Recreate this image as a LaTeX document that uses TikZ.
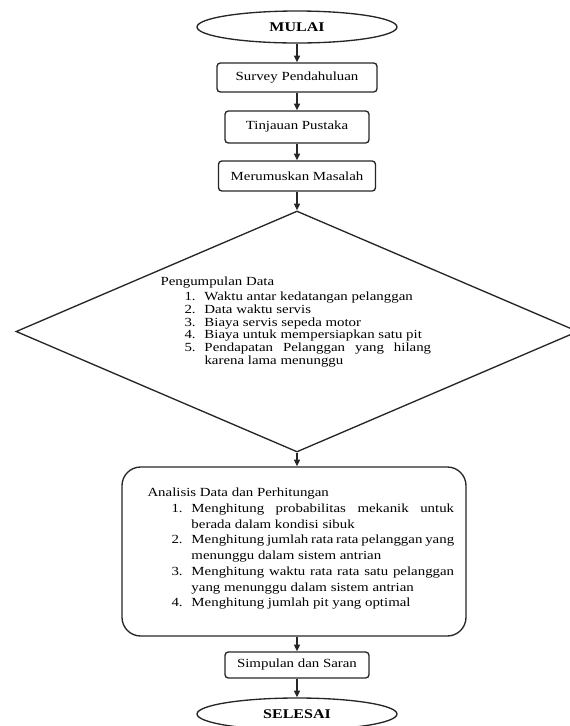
\documentclass[tikz,border=0pt]{standalone}
\usepackage{fontspec}
\setmainfont{Liberation Serif}[FakeStretch=1.2]
\usetikzlibrary{shapes.geometric,arrows.meta}

\tikzset{every picture/.style={line width=0.75pt}}
\tikzset{
  terminal/.style={ellipse, draw=black!85, line width=1pt, inner sep=0pt, font=\fontsize{10}{12}\selectfont\bfseries},
  proses/.style={rectangle, draw=black!85, line width=1pt, rounded corners=2.5pt, inner sep=0pt, font=\fontsize{9.3}{11}\selectfont},
  panah/.style={draw=black!85, line width=0.9pt, -{Triangle[length=5pt,width=4.5pt]}},
}
\newcommand{\nomor}[1]{\hspace*{18pt}\makebox[15pt][l]{#1.}}
\newcommand{\lanjut}{\hspace*{33pt}}

\begin{document}
\begin{tikzpicture}[x=0.75pt,y=0.75pt,yscale=-1,xscale=1]
\useasboundingbox (0,0) rectangle (570,726);

%Shape: Ellipse
\node[terminal, minimum width=150pt, minimum height=24pt] (mulai) at (297,27) {MULAI};
%Shape: Rectangle
\node[proses, minimum width=120pt, minimum height=21.75pt] (survey) at (297,77.5) {Survey Pendahuluan};
%Shape: Rectangle
\node[proses, minimum width=108pt, minimum height=24pt] (tinjauan) at (297,127) {Tinjauan Pustaka};
%Shape: Rectangle
\node[proses, minimum width=117.75pt, minimum height=22.5pt] (masalah) at (297,176) {Merumuskan Masalah};

%Shape: Diamond
\node[diamond, draw=black!85, line width=1pt, inner sep=0pt, minimum width=421.5pt, minimum height=180.75pt] (data) at (297,331.5) {};
% Text Node
\node[anchor=north west, inner sep=0pt, align=left, font=\fontsize{9.3}{9.6}\selectfont] (datateks) at (160,276) {Pengumpulan Data\\[2pt]
\nomor{1}Waktu antar kedatangan pelanggan\\
\nomor{2}Data waktu servis\\
\nomor{3}Biaya servis sepeda motor\\
\nomor{4}Biaya untuk mempersiapkan satu pit\\
\nomor{5}\makebox[170pt][s]{Pendapatan Pelanggan yang hilang}\\
\lanjut karena lama menunggu};

%Shape: Rounded Rect
\node[proses, rounded corners=14pt, minimum width=258pt, minimum height=126.75pt] (analisis) at (294,551.5) {};
% Text Node
\node[anchor=north west, inner sep=0pt, align=left, font=\fontsize{9.3}{11.8}\selectfont] (analisisteks) at (147,487.5) {Analisis Data dan Perhitungan\\
\nomor{1}\makebox[197pt][s]{Menghitung probabilitas mekanik untuk}\\
\lanjut berada dalam kondisi sibuk\\
\nomor{2}\makebox[197pt][s]{Menghitung jumlah rata rata pelanggan yang}\\
\lanjut menunggu dalam sistem antrian\\
\nomor{3}\makebox[197pt][s]{Menghitung waktu rata rata satu pelanggan}\\
\lanjut yang menunggu dalam sistem antrian\\
\nomor{4}Menghitung jumlah pit yang optimal};

%Shape: Rectangle
\node[proses, minimum width=108pt, minimum height=19.5pt] (simpulan) at (297,665) {Simpulan dan Saran};
%Shape: Ellipse
\node[terminal, minimum width=150pt, minimum height=24pt] (selesai) at (297,714) {SELESAI};

%Straight Lines
\draw[panah] (mulai.south) -- (mulai.south |- survey.north);
\draw[panah] (survey.south) -- (survey.south |- tinjauan.north);
\draw[panah] (tinjauan.south) -- (tinjauan.south |- masalah.north);
\draw[panah] (masalah.south) -- (masalah.south |- data.north);
\draw[panah] (data.south) -- (data.south |- analisis.north);
\draw[panah] (data.south |- analisis.south) -- (data.south |- simpulan.north);
\draw[panah] (simpulan.south) -- (simpulan.south |- selesai.north);

\end{tikzpicture}
\end{document}
